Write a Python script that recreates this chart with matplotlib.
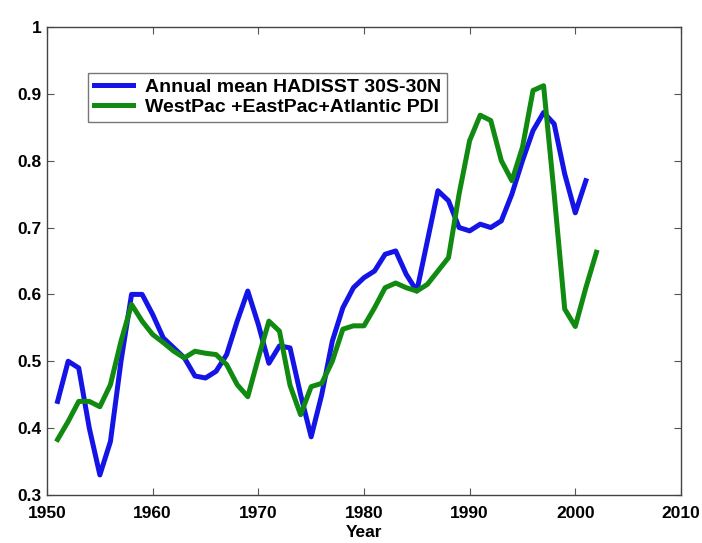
import matplotlib
matplotlib.use("Agg")
import matplotlib.pyplot as plt
from matplotlib.ticker import FuncFormatter

years_sst = list(range(1951, 2002))
sst = [0.44, 0.50, 0.49, 0.40, 0.33, 0.38, 0.50, 0.60, 0.60, 0.57,
       0.535, 0.52, 0.505, 0.478, 0.475, 0.485, 0.51, 0.56, 0.605, 0.555,
       0.497, 0.523, 0.52, 0.45, 0.387, 0.45, 0.53, 0.58, 0.61, 0.625,
       0.635, 0.66, 0.665, 0.63, 0.605, 0.68, 0.755, 0.74, 0.70, 0.695,
       0.705, 0.70, 0.71, 0.75, 0.80, 0.845, 0.872, 0.855, 0.78, 0.722,
       0.77]

years_pdi = list(range(1951, 2003))
pdi = [0.383, 0.41, 0.44, 0.44, 0.432, 0.465, 0.53, 0.585, 0.56, 0.54,
       0.528, 0.515, 0.505, 0.515, 0.512, 0.51, 0.495, 0.465, 0.447, 0.505,
       0.56, 0.545, 0.464, 0.42, 0.462, 0.467, 0.50, 0.548, 0.553, 0.553,
       0.58, 0.61, 0.617, 0.61, 0.605, 0.615, 0.635, 0.655, 0.75, 0.83,
       0.868, 0.86, 0.80, 0.77, 0.82, 0.905, 0.912, 0.75, 0.578, 0.552,
       0.61, 0.663]

labels = ["Annual mean HADISST 30S-30N", "WestPac +EastPac+Atlantic PDI"]
xticks = [1950, 1960, 1970, 1980, 1990, 2000, 2010]
yticks = [0.3, 0.4, 0.5, 0.6, 0.7, 0.8, 0.9, 1.0]

plt.rcParams['font.family'] = ['Liberation Sans', 'DejaVu Sans']
plt.rcParams['font.weight'] = 'bold'

fig = plt.figure(figsize=(7.02, 5.43), dpi=100)
ax = fig.add_axes([0.067, 0.0884, 0.903, 0.862])

ax.plot(years_sst, sst, color='#1414e6', lw=3.6, label=labels[0], solid_joinstyle='round')
ax.plot(years_pdi, pdi, color='#118a11', lw=3.6, label=labels[1], solid_joinstyle='round')

ax.set_xlim(1950, 2010)
ax.set_ylim(0.3, 1.0)
ax.set_xticks(xticks)
ax.set_yticks(yticks)
ax.yaxis.set_major_formatter(FuncFormatter(lambda v, p: ('%g' % round(v, 2))))
ax.tick_params(direction='in', top=True, right=True, length=5, width=0.8,
               labelsize=12.5, color='#555555')
ax.tick_params(axis='x', pad=8)
ax.tick_params(axis='y', pad=4)
for lab in ax.get_xticklabels() + ax.get_yticklabels():
    lab.set_fontweight('bold')
for s in ax.spines.values():
    s.set_color('#444444')
    s.set_linewidth(1.0)

ax.set_xlabel('Year', fontsize=12.5, fontweight='bold', labelpad=3)

leg = ax.legend(loc='upper left', bbox_to_anchor=(0.065, 0.902), borderaxespad=0,
                frameon=True, fancybox=False, edgecolor='#555555',
                handlelength=2.0, handletextpad=0.6, borderpad=0.3, labelspacing=0.1,
                prop={'weight': 'bold', 'size': 14})
leg.get_frame().set_linewidth(1.0)

fig.savefig('out.png', dpi=100)
